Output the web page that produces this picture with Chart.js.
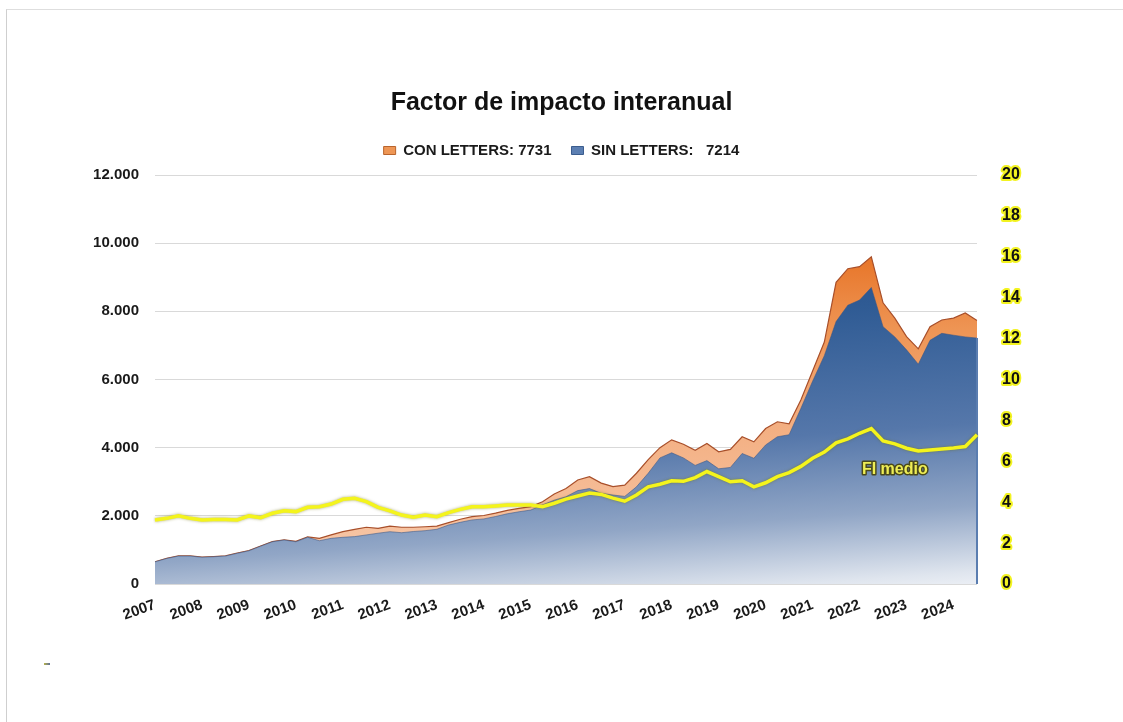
<!DOCTYPE html>
<html>
<head>
<meta charset="utf-8">
<script src="https://cdn.jsdelivr.net/npm/chart.js@4.4.1/dist/chart.umd.min.js"></script>
<style>
html,body{margin:0;padding:0;background:#fff;}
#wrap{position:relative;width:1123px;height:722px;overflow:hidden;background:#fff;}
#frame{position:absolute;left:6px;top:9px;width:1300px;height:900px;border-left:1px solid #cfcfcf;border-top:1px solid #dedede;}
#dash{position:absolute;left:44px;top:663px;width:6px;height:2px;background:linear-gradient(90deg,#b8b24a,#5b6f9c);}
canvas{position:absolute;left:0;top:0;}
</style>
</head>
<body>
<div id="wrap"><div id="frame"></div><div id="dash"></div><canvas id="c" width="1123" height="722"></canvas></div>
<script>
// ---- data (quarterly readings) ----
const periods = [
  '2007-T1','2007-T2','2007-T3','2007-T4',
  '2008-T1','2008-T2','2008-T3','2008-T4',
  '2009-T1','2009-T2','2009-T3','2009-T4',
  '2010-T1','2010-T2','2010-T3','2010-T4',
  '2011-T1','2011-T2','2011-T3','2011-T4',
  '2012-T1','2012-T2','2012-T3','2012-T4',
  '2013-T1','2013-T2','2013-T3','2013-T4',
  '2014-T1','2014-T2','2014-T3','2014-T4',
  '2015-T1','2015-T2','2015-T3','2015-T4',
  '2016-T1','2016-T2','2016-T3','2016-T4',
  '2017-T1','2017-T2','2017-T3','2017-T4',
  '2018-T1','2018-T2','2018-T3','2018-T4',
  '2019-T1','2019-T2','2019-T3','2019-T4',
  '2020-T1','2020-T2','2020-T3','2020-T4',
  '2021-T1','2021-T2','2021-T3','2021-T4',
  '2022-T1','2022-T2','2022-T3','2022-T4',
  '2023-T1','2023-T2','2023-T3','2023-T4',
  '2024-T1','2024-T2','2024-T3'
];
const conLetters = [
  650, 750, 825, 825,
  790, 805, 825, 905,
  980, 1115, 1245, 1295,
  1250, 1380, 1340, 1440,
  1535, 1605, 1665, 1635,
  1700, 1665, 1665, 1680,
  1700, 1800, 1900, 1975,
  2010, 2080, 2160, 2220,
  2270, 2415, 2640, 2800,
  3050, 3150, 2960, 2860,
  2900, 3250, 3650, 4000,
  4230, 4100, 3920, 4120,
  3880, 3950, 4320, 4170,
  4560, 4760, 4700, 5400,
  6250, 7100, 8850, 9250,
  9310, 9600, 8250, 7800,
  7260, 6900, 7550, 7746,
  7800, 7950, 7731
];
const sinLetters = [
  650, 750, 820, 820,
  785, 800, 820, 900,
  975, 1110, 1240, 1290,
  1240, 1370, 1270, 1340,
  1370, 1390, 1440, 1490,
  1535, 1505, 1540, 1565,
  1605, 1730, 1810, 1880,
  1910, 1980, 2060, 2120,
  2170, 2320, 2460, 2560,
  2740, 2800, 2660, 2610,
  2570, 2850, 3250, 3700,
  3850, 3700, 3480, 3620,
  3380, 3420, 3830, 3690,
  4080, 4320, 4380, 5150,
  5950, 6700, 7700, 8180,
  8330, 8700, 7550, 7250,
  6870, 6450, 7150, 7355,
  7300, 7250, 7214
];
const fiMedio = [
  3.13, 3.21, 3.33, 3.21,
  3.13, 3.16, 3.16, 3.13,
  3.33, 3.24, 3.46, 3.58,
  3.54, 3.75, 3.78, 3.91,
  4.14, 4.19, 4.03, 3.75,
  3.58, 3.37, 3.26, 3.37,
  3.29, 3.49, 3.65, 3.78,
  3.78, 3.82, 3.86, 3.86,
  3.86, 3.78, 3.95, 4.15,
  4.30, 4.45, 4.38, 4.20,
  4.05, 4.35, 4.75, 4.88,
  5.05, 5.02, 5.20, 5.50,
  5.25, 5.00, 5.05, 4.75,
  4.95, 5.25, 5.45, 5.75,
  6.15, 6.45, 6.90, 7.10,
  7.37, 7.60, 7.00, 6.85,
  6.64, 6.50, 6.55, 6.60,
  6.65, 6.72, 7.30
];
const yearLabels = ['2007','2008','2009','2010','2011','2012','2013','2014','2015',
  '2016','2017','2018','2019','2020','2021','2022','2023','2024'];
const leftTickLabels = ['0','2.000','4.000','6.000','8.000','10.000','12.000'];
const rightTickLabels = ['0','2','4','6','8','10','12','14','16','18','20'];
const legendTexts = ['CON LETTERS: 7731', 'SIN LETTERS:   7214'];
const titleText = 'Factor de impacto interanual';
const fiLabelText = 'FI medio';
const fiLabelPos = { period: '2022-T4', value: 5.6 };

// ---- styles ----
const FONT = "'Liberation Sans', Arial, Helvetica, sans-serif";
const TXT = '#1a1a1a';

function sinFill(context) {
  const chart = context.chart, a = chart.chartArea;
  if (!a) return '#5b7fb0';
  const w = a.right - a.left, h = a.bottom - a.top;
  const g = chart.ctx.createLinearGradient(a.left + 0.846 * w, a.top + 0.225 * h, a.left + 0.874 * w, a.top + 1.027 * h);
  g.addColorStop(0, '#2a548e');
  g.addColorStop(0.12, '#2f5b94');
  g.addColorStop(0.5, '#5577aa');
  g.addColorStop(0.75, '#91a6c6');
  g.addColorStop(0.95, '#dfe5ee');
  g.addColorStop(1, '#eef1f6');
  return g;
}
function conFill(context) {
  const chart = context.chart, a = chart.chartArea;
  if (!a) return '#ee9655';
  const g = chart.ctx.createLinearGradient(0, a.top, 0, a.bottom);
  g.addColorStop(0, '#de5f0c');
  g.addColorStop(0.21, '#e8772b');
  g.addColorStop(0.38, '#ee9555');
  g.addColorStop(0.6, '#f3ae80');
  g.addColorStop(1, '#f8ccb0');
  return g;
}

const decor = {
  id: 'decor',
  beforeDraw(chart) {
    chart.ctx.lineJoin = 'round';
    chart.ctx.miterLimit = 2;
  },
  beforeDatasetDraw(chart, args) {
    if (args.index === 0) {
      const c = chart.ctx;
      c.save();
      c.shadowColor = 'rgba(110,110,0,0.55)';
      c.shadowBlur = 3;
    }
  },
  afterDatasetDraw(chart, args) {
    if (args.index === 0) chart.ctx.restore();
    if (args.index === 1) {
      const meta = chart.getDatasetMeta(1);
      const last = meta.data[meta.data.length - 1];
      const c = chart.ctx;
      c.save();
      c.strokeStyle = '#5a7db0';
      c.lineWidth = 2;
      c.beginPath();
      c.moveTo(last.x, last.y);
      c.lineTo(last.x, chart.scales.y.getPixelForValue(0));
      c.stroke();
      c.restore();
    }
  },
  afterDatasetsDraw(chart) {
    const c = chart.ctx;
    const x = chart.scales.x.getPixelForValue(periods.indexOf(fiLabelPos.period));
    const y = chart.scales.y1.getPixelForValue(fiLabelPos.value);
    c.save();
    c.font = 'bold 16px ' + FONT;
    c.textAlign = 'center';
    c.textBaseline = 'middle';
    c.lineJoin = 'round';
    c.strokeStyle = '#4a4a1c';
    c.lineWidth = 3;
    c.strokeText(fiLabelText, x, y);
    c.fillStyle = '#eeee55';
    c.fillText(fiLabelText, x, y);
    c.restore();
  }
};

new Chart(document.getElementById('c'), {
  type: 'line',
  data: {
    labels: periods,
    datasets: [
      { label: 'FI medio', data: fiMedio, yAxisID: 'y1', borderColor: '#f4f41c', borderWidth: 3.5,
        pointRadius: 0, tension: 0, fill: false },
      { label: legendTexts[1], data: sinLetters, yAxisID: 'y', backgroundColor: sinFill,
        borderColor: 'rgba(55,85,135,0.55)', borderWidth: 1, pointRadius: 0, tension: 0, fill: 'origin' },
      { label: legendTexts[0], data: conLetters, yAxisID: 'y', backgroundColor: conFill,
        borderColor: '#a84f2a', borderWidth: 1.2, pointRadius: 0, tension: 0, fill: 'origin' }
    ]
  },
  options: {
    responsive: false,
    devicePixelRatio: 1,
    animation: false,
    layout: { padding: { left: 0, right: 0, top: 0, bottom: 0 } },
    plugins: {
      tooltip: { enabled: false },
      title: { display: true, text: titleText, color: '#111',
        font: { family: FONT, size: 25, weight: 'bold' }, padding: { top: 88, bottom: 5 } },
      subtitle: { display: true, text: '', weight: 500, padding: { top: 6, bottom: 0 },
        font: { size: 1, lineHeight: 1 } },
      legend: {
        display: true, position: 'top',
        labels: {
          color: TXT, boxWidth: 12, boxHeight: 8, padding: 20,
          font: { family: FONT, size: 15, weight: 'bold' },
          generateLabels() {
            return [
              { text: legendTexts[0], fillStyle: '#ee9655', strokeStyle: '#b9642c', lineWidth: 1, fontColor: TXT, datasetIndex: 2, hidden: false },
              { text: legendTexts[1], fillStyle: '#5c7fb2', strokeStyle: '#3b5d8e', lineWidth: 1, fontColor: TXT, datasetIndex: 1, hidden: false }
            ];
          }
        }
      }
    },
    scales: {
      x: {
        type: 'category', offset: false,
        grid: { display: false }, border: { display: false },
        ticks: {
          autoSkip: false, maxRotation: 20, minRotation: 20, padding: 4, color: TXT,
          font: { family: FONT, size: 15, weight: 'bold' },
          callback: (v, i) => {
            const p = periods[i];
            return p.endsWith('T1') ? yearLabels[yearLabels.indexOf(p.slice(0, 4))] : '';
          }
        },
        afterFit(s) { s.height = 138; }
      },
      y: {
        position: 'left', min: 0, max: 12000,
        grid: { color: '#d9d9d9', lineWidth: 1, drawTicks: false },
        border: { display: false },
        ticks: { stepSize: 2000, padding: 16, color: TXT,
          font: { family: FONT, size: 15, weight: 'bold' },
          callback: (v) => leftTickLabels[Math.round(v / 2000)] },
        afterFit(s) { s.width = 155; }
      },
      y1: {
        position: 'right', min: 0, max: 20,
        grid: { display: false, drawOnChartArea: false }, border: { display: false },
        ticks: { stepSize: 2, padding: 17, color: '#111',
          textStrokeColor: '#f3f320', textStrokeWidth: 4,
          font: { family: FONT, size: 16, weight: 'bold' },
          callback: (v) => rightTickLabels[Math.round(v / 2)] },
        afterFit(s) { s.width = 146; }
      }
    }
  },
  plugins: [decor]
});
</script>
</body>
</html>
